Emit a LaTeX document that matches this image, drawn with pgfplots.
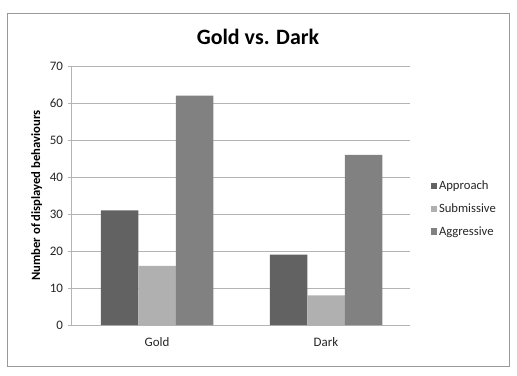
\documentclass[border=0pt]{standalone}
\usepackage{pgfplots}
\pgfplotsset{compat=1.18}
\usepackage{fontspec}
\setmainfont{Carlito}
\definecolor{appr}{HTML}{626262}
\definecolor{subm}{HTML}{B0B0B0}
\definecolor{aggr}{HTML}{818181}
\definecolor{gridc}{HTML}{B4B4B4}
\begin{document}
\begin{tikzpicture}[x=1bp,y=1bp]
\path[use as bounding box] (0,0) rectangle (517,375);
\fill[white] (0,0) rectangle (517,375);
\draw[color=gray!80,line width=0.8bp] (7,9) rectangle (509,362);
\node[font=\fontsize{22}{26}\selectfont\bfseries] at (258,338) {Gold vs. Dark};
\begin{axis}[
  at={(71.5bp,50bp)}, anchor=south west,
  scale only axis, width=338.5bp, height=259bp,
  ybar=0pt, bar width=37.5bp,
  xmin=-0.506, xmax=1.497, ymin=0, ymax=70,
  xtick=data, xticklabels={Gold,Dark},
  ytick={0,10,...,70},
  axis x line*=bottom, axis y line*=left,
  axis line style={gridc, line width=0.8bp},
  x axis line style={-}, y axis line style={-},
  ymajorgrids, grid style={gridc, line width=0.8bp},
  major x tick style={draw=none},
  major y tick style={gridc, line width=0.8bp},
  tick align=outside, major tick length=4bp,
  /pgf/number format/assume math mode=true,
  tick label style={font=\fontsize{13}{15}\selectfont, text=black!85},
  xticklabel style={yshift=-5bp},
  yticklabel style={xshift=-1bp},
  ylabel={\bfseries Number of displayed behaviours},
  ylabel style={font=\fontsize{12.7}{15}\selectfont, yshift=1bp},
  legend style={at={(1.06,0.448)}, anchor=west, draw=none, fill=none,
    font=\fontsize{12.7}{15}\selectfont, text=black!85, row sep=8.5bp,
    legend cell align=left, inner xsep=0pt},
  legend image code/.code={\fill[#1] (0bp,-3bp) rectangle (6.5bp,3.5bp);},
]
\addplot[draw=none, fill=appr] coordinates {(0,31) (1,19)};
\addplot[draw=none, fill=subm] coordinates {(0,16) (1,8)};
\addplot[draw=none, fill=aggr] coordinates {(0,62) (1,46)};
\legend{Approach,Submissive,Aggressive}
\end{axis}
\end{tikzpicture}
\end{document}
